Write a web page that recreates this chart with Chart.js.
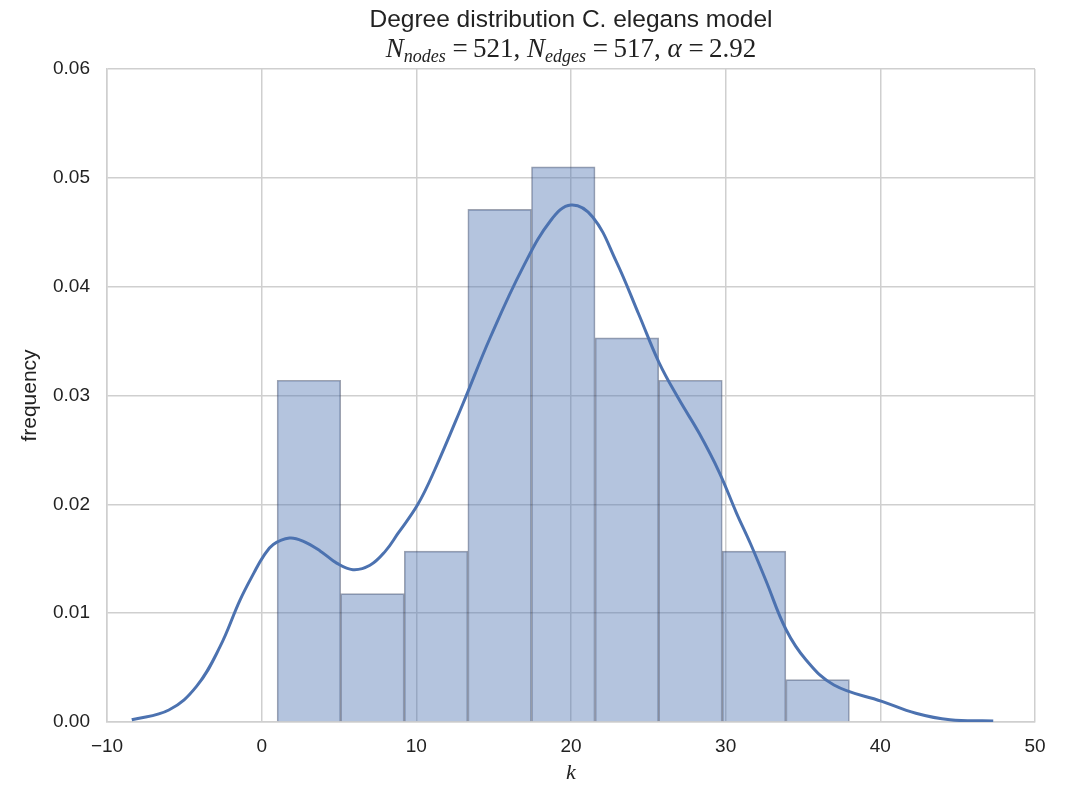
<!DOCTYPE html>
<html>
<head>
<meta charset="utf-8">
<script src="https://cdn.jsdelivr.net/npm/chart.js@4.4.1/dist/chart.umd.min.js"></script>
<style>
  html, body { margin: 0; padding: 0; background: #fff; }
  #wrap { width: 1073px; height: 786px; position: relative; }
</style>
</head>
<body>
<div id="wrap"><canvas id="degChart"></canvas></div>
<script>
// ─── data ───
const binEdges = [1.0, 5.11, 9.22, 13.33, 17.44, 21.56, 25.67, 29.78, 33.89, 38.0];
const binHeights = [0.0314, 0.0118, 0.0157, 0.0471, 0.0510, 0.0353, 0.0314, 0.0157, 0.0039];

const kdeX = [-8.4, -6.0, -4.2, -2.7, -1.4, -0.5, 0.1, 0.75, 1.8, 2.7, 3.8, 4.85, 5.9, 7.0, 8.0, 8.8,
  10.1, 11.2, 13.0, 14.8, 16.9, 18.7, 20.0, 21.4, 22.9, 24.4, 25.7, 27.0, 28.3, 29.6, 30.7, 31.6,
  32.6, 33.9, 35.2, 37.0, 40.1, 42.3, 44.5, 47.3];
const kdeY = [0.0002, 0.0011, 0.0033, 0.0069, 0.0112, 0.0137, 0.0152, 0.0163, 0.0169, 0.0166, 0.0157,
  0.0146, 0.0140, 0.0144, 0.0157, 0.0173, 0.0200, 0.0232, 0.0292, 0.0354, 0.0418, 0.0461, 0.0475,
  0.0464, 0.0424, 0.0374, 0.0330, 0.0296, 0.0265, 0.0229, 0.0192, 0.0164, 0.0130, 0.0085, 0.0057,
  0.0034, 0.0019, 0.0008, 0.0002, 0.0001];

const xTicks = [-10, 0, 10, 20, 30, 40, 50];
const yTicks = [0, 0.01, 0.02, 0.03, 0.04, 0.05, 0.06];

const titleText = 'Degree distribution C. elegans model';
// math subtitle: [text, italic, subscript]
const subtitleParts = [
  ['N', true, false], ['nodes', true, true], [' =\u2009521, ', false, false],
  ['N', true, false], ['edges', true, true], [' =\u2009517, ', false, false],
  ['\u03b1', true, false], [' =\u20092.92', false, false]
];

const textColor = '#222222';
const gridColor = '#cfcfcf';
const blue = '#4C72B0';

const bars = binHeights.map((h, i) => ({ x: (binEdges[i] + binEdges[i + 1]) / 2, y: h }));
const kde = kdeX.map((x, i) => ({ x: x, y: kdeY[i] }));

// ─── titles drawn centred on the plot area ───
const titlePlugin = {
  id: 'mathTitle',
  afterDraw(chart) {
    const { ctx, chartArea } = chart;
    const cx = (chartArea.left + chartArea.right) / 2;
    ctx.save();
    ctx.fillStyle = textColor;
    ctx.textBaseline = 'alphabetic';
    ctx.textAlign = 'center';
    ctx.font = '24.5px "Liberation Sans", Arial, sans-serif';
    ctx.fillText(titleText, cx, 27);

    const fontFor = p => (p[1] ? 'italic ' : '') + (p[2] ? '18px' : '27px') + ' "Liberation Serif", "Times New Roman", serif';
    ctx.textAlign = 'left';
    let total = 0;
    subtitleParts.forEach(p => { ctx.font = fontFor(p); total += ctx.measureText(p[0]).width; });
    let x = cx - total / 2;
    const base = 57;
    subtitleParts.forEach(p => {
      ctx.font = fontFor(p);
      ctx.fillText(p[0], x, p[2] ? base + 5 : base);
      x += ctx.measureText(p[0]).width;
    });
    ctx.restore();
  }
};

const fmtX = v => (v < 0 ? '\u2212' + Math.abs(v) : String(v));

new Chart(document.getElementById('degChart'), {
  type: 'bar',
  data: {
    datasets: [
      {
        type: 'line',
        data: kde,
        borderColor: blue,
        borderWidth: 3,
        pointRadius: 0,
        fill: false,
        tension: 0.4,
        order: 0
      },
      {
        type: 'bar',
        data: bars,
        backgroundColor: 'rgba(76,114,176,0.42)',
        borderColor: 'rgba(40,52,80,0.45)',
        borderWidth: 1,
        barPercentage: 1.0,
        categoryPercentage: 1.0,
        order: 1
      }
    ]
  },
  options: {
    responsive: true, maintainAspectRatio: false,
    animation: false,
    layout: { padding: { top: 69, right: 38, left: 0, bottom: 0 } },
    plugins: { legend: { display: false }, tooltip: { enabled: false }, title: { display: false } },
    scales: {
      x: {
        type: 'linear', min: -10, max: 50, offset: false,
        afterBuildTicks: s => { s.ticks = xTicks.map(v => ({ value: v })); },
        afterFit: s => { s.height = 64; },
        grid: { color: gridColor, lineWidth: 1.5, drawTicks: false, offset: false },
        border: { color: gridColor, width: 1.5 },
        ticks: { color: textColor, font: { size: 19, family: '"Liberation Sans", Arial, sans-serif' }, padding: 13, callback: fmtX, maxRotation: 0 },
        title: { display: true, text: 'k', color: textColor, padding: { top: 0, bottom: 0 },
          font: { size: 22, style: 'italic', family: '"Liberation Serif", "Times New Roman", serif' } }
      },
      y: {
        min: 0, max: 0.06,
        afterBuildTicks: s => { s.ticks = yTicks.map(v => ({ value: v })); },
        afterFit: s => { s.width = 107; },
        grid: { color: gridColor, lineWidth: 1.5, drawTicks: false },
        border: { color: gridColor, width: 1.5 },
        ticks: { color: textColor, font: { size: 19, family: '"Liberation Sans", Arial, sans-serif' }, padding: 17, callback: v => v.toFixed(2) },
        title: { display: true, text: 'frequency', color: textColor, padding: { top: 18, bottom: 0 },
          font: { size: 21, family: '"Liberation Sans", Arial, sans-serif' } }
      }
    }
  },
  plugins: [titlePlugin]
});
</script>
</body>
</html>
